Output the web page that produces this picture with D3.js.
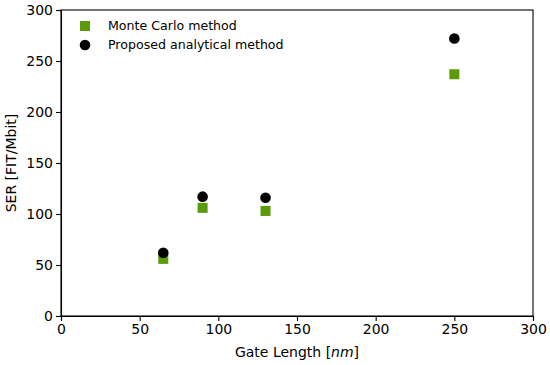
<!DOCTYPE html>
<html>
<head>
<meta charset="utf-8">
<script src="https://cdn.jsdelivr.net/npm/d3@7"></script>
<style>
  body { margin: 0; background: #fff; }
  text { font-family: "DejaVu Sans", sans-serif; fill: #000; }
</style>
</head>
<body>
<svg id="chart" width="550" height="365"></svg>
<script>
const gateLengths = [65, 90, 130, 250];
const monteCarlo = [56, 106, 103, 237];
const analytical = [62, 117, 116, 272];
const xTicks = [0, 50, 100, 150, 200, 250, 300];
const yTicks = [0, 50, 100, 150, 200, 250, 300];

const margin = { top: 10, right: 17, bottom: 49, left: 61 };
const width = 550 - margin.left - margin.right;
const height = 365 - margin.top - margin.bottom;

const svg = d3.select('#chart');
const g = svg.append('g').attr('transform', `translate(${margin.left},${margin.top})`);

const x = d3.scaleLinear().domain([0, 300]).range([0, width]);
const y = d3.scaleLinear().domain([0, 300]).range([height, 0]);

const xAxis = g.append('g')
  .attr('transform', `translate(0,${height})`)
  .call(d3.axisBottom(x).tickValues(xTicks).tickSize(5).tickPadding(3));
const yAxis = g.append('g')
  .call(d3.axisLeft(y).tickValues(yTicks).tickSize(5).tickPadding(3));

[xAxis, yAxis].forEach(a => {
  a.selectAll('text').style('font-size', '14px').style('font-family', '"DejaVu Sans", sans-serif');
  a.selectAll('line, path').attr('stroke', '#000').attr('stroke-width', 1.1);
});

// frame
g.append('rect').attr('width', width).attr('height', height)
  .attr('fill', 'none').attr('stroke', '#000').attr('stroke-width', 1.1);

const green = '#5b9a0a';
const pts = gateLengths.map((d, i) => ({ gl: d, mc: monteCarlo[i], an: analytical[i] }));

g.selectAll('.mc').data(pts).enter().append('rect')
  .attr('class', 'mc')
  .attr('x', d => x(d.gl) - 5).attr('y', d => y(d.mc) - 5)
  .attr('width', 10).attr('height', 10).attr('fill', green);

g.selectAll('.an').data(pts).enter().append('circle')
  .attr('class', 'an')
  .attr('cx', d => x(d.gl)).attr('cy', d => y(d.an))
  .attr('r', 5.3).attr('fill', '#000');

// legend
const leg = g.append('g');
leg.append('rect').attr('x', 85 - margin.left - 5).attr('y', 26 - margin.top - 5)
  .attr('width', 10).attr('height', 10).attr('fill', green);
leg.append('circle').attr('cx', 85 - margin.left).attr('cy', 45 - margin.top)
  .attr('r', 5.3).attr('fill', '#000');
leg.append('text').attr('x', 108 - margin.left).attr('y', 26 - margin.top)
  .attr('dy', '0.35em').style('font-size', '12.6px').text('Monte Carlo method');
leg.append('text').attr('x', 108 - margin.left).attr('y', 45 - margin.top)
  .attr('dy', '0.35em').style('font-size', '12.6px').text('Proposed analytical method');

// axis labels
const xl = svg.append('text')
  .attr('x', margin.left + width / 2).attr('y', 357)
  .attr('text-anchor', 'middle').style('font-size', '14px');
xl.append('tspan').text('Gate Length [');
xl.append('tspan').style('font-style', 'italic').text('nm');
xl.append('tspan').text(']');

svg.append('text')
  .attr('transform', `translate(16,${margin.top + height / 2}) rotate(-90)`)
  .attr('text-anchor', 'middle').style('font-size', '14px')
  .text('SER [FIT/Mbit]');
</script>
</body>
</html>
